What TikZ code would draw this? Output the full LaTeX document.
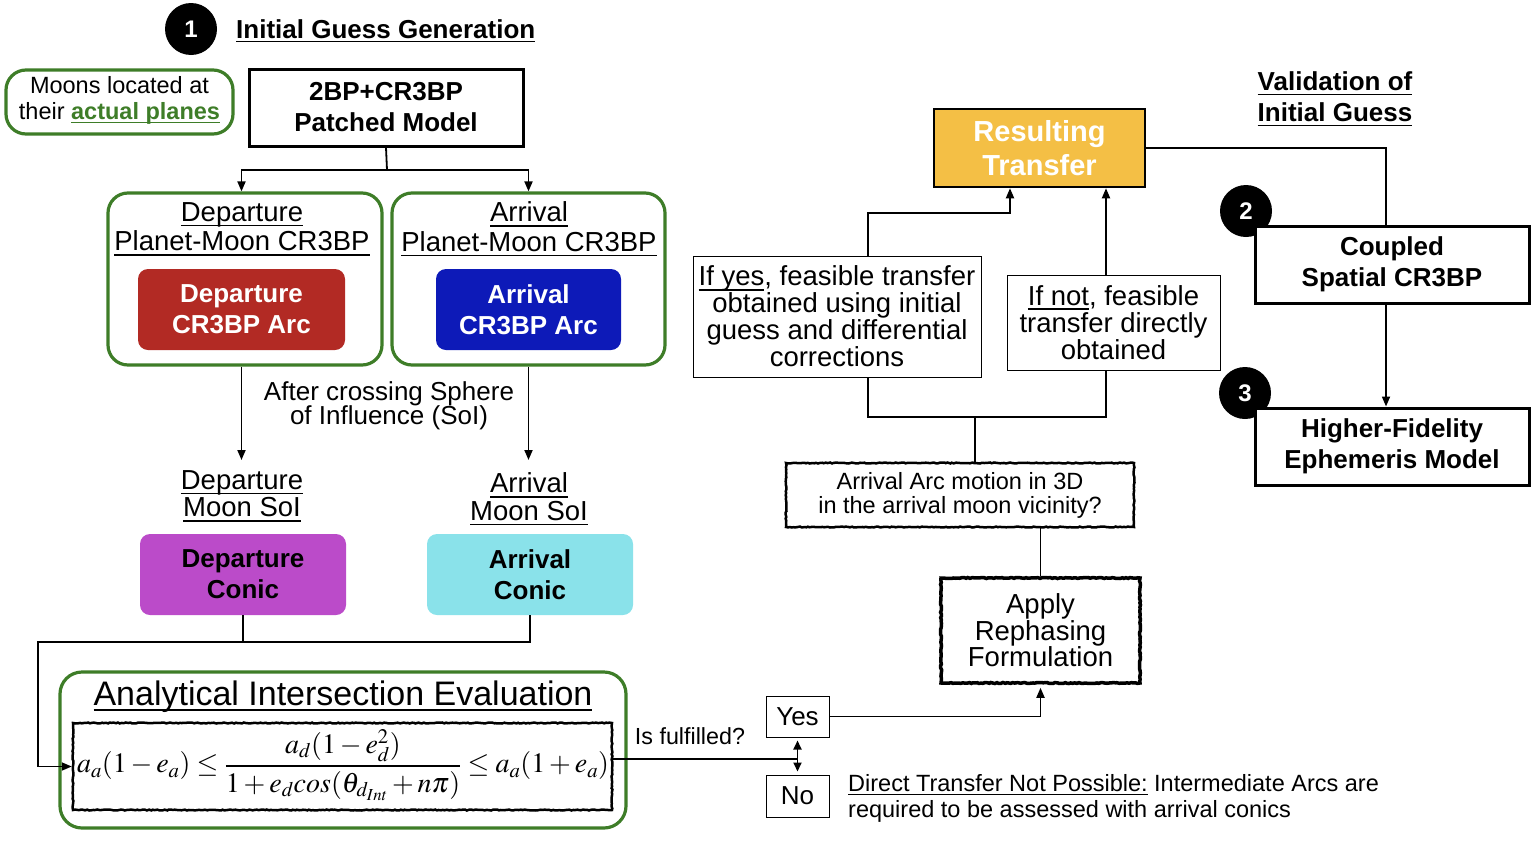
\documentclass[tikz,border=0pt]{standalone}
\usepackage{mathptmx}
\usepackage[no-math]{fontspec}
\setmainfont{Liberation Sans}
\usetikzlibrary{arrows.meta,decorations.pathmorphing}
\definecolor{grn}{RGB}{62,125,40}
\definecolor{redarc}{RGB}{178,42,36}
\definecolor{bluearc}{RGB}{13,26,184}
\definecolor{purp}{RGB}{187,75,201}
\definecolor{cyanc}{RGB}{138,226,234}
\definecolor{gold}{RGB}{244,191,69}
\newcommand\tightls{\lineskiplimit=-20pt\relax}
\newcommand\ul[1]{\setbox0\hbox{#1}\rlap{\rule[-0.17em]{\wd0}{0.055em}}\box0{}}
\begin{document}
\begin{tikzpicture}[x=1pt,y=-1pt,
  conn/.style={line width=1.8pt},
  arr/.style={conn,-{Triangle[length=10pt,width=8pt]}},
  dblarr/.style={conn,{Triangle[length=9pt,width=8pt]}-{Triangle[length=9pt,width=8pt]}},
  numc/.style={circle,fill=black,minimum size=52pt,inner sep=0,text=white,font=\bfseries\fontsize{24}{26}\selectfont},
  hbox/.style={draw,line width=3pt,fill=white,inner sep=0,align=center,font=\bfseries\fontsize{26}{31}\selectfont},
  thinbox/.style={draw,line width=1pt,fill=white,inner sep=0,align=center,font=\fontsize{27.5}{27}\selectfont\tightls},
  roughbox/.style={draw,line width=3pt,fill=white,inner sep=0,align=center,decorate,decoration={random steps,segment length=2pt,amplitude=0.5pt}},
  grnbox/.style={draw=grn,line width=3.2pt,rounded corners=20pt,inner sep=0},
  colbox/.style={rounded corners=10pt,inner sep=0,align=center,font=\bfseries\fontsize{26}{31}\selectfont},
  lbl/.style={inner sep=0,align=center,font=\fontsize{27.5}{29.5}\selectfont\tightls},
]
\useasboundingbox (0,0) rectangle (1538,846);

% ---- header
\node[numc] (c1) at (191,29) {1};
\node[anchor=base west,inner sep=0,font=\bfseries\fontsize{26}{30}\selectfont] (title) at (236,38) {\ul{Initial Guess Generation}};

\node[grnbox,minimum width=227pt,minimum height=64pt] (moonsbox) at (119.5,102) {};
\node[inner sep=0,align=center,font=\fontsize{23.5}{26}\selectfont\tightls] (moons) at (119.5,100) {Moons located at\\their \textcolor{grn}{\bfseries\ul{actual planes}}};

\node[hbox,minimum width=274pt,minimum height=77pt] (patched) at (386,107.5) {2BP+CR3BP\\Patched Model};

% ---- CR3BP groups
\node[grnbox,minimum width=274pt,minimum height=172pt] (depgrp) at (245,279) {};
\node[grnbox,minimum width=273pt,minimum height=172pt] (arrgrp) at (528.5,279) {};
\node[lbl] (deplbl) at (242,229) {\ul{Departure}\\\ul{Planet-Moon CR3BP}};
\node[lbl] (arrlbl) at (529,229) {\ul{Arrival}\\\ul{Planet-Moon CR3BP}};
\node[colbox,fill=redarc,text=white,minimum width=207pt,minimum height=81pt] (deparc) at (241.5,309.5) {Departure\\CR3BP Arc};
\node[colbox,fill=bluearc,text=white,minimum width=185pt,minimum height=81pt] (arrarc) at (528.5,309.5) {Arrival\\CR3BP Arc};

\coordinate (split) at (387,170);
\draw[conn] (patched.south) -- (split);
\draw[arr] (split) -| (deparc.north |- depgrp.north);
\draw[arr] (split) -| (arrarc.north |- arrgrp.north);

% ---- SoI
\node[inner sep=0,align=center,font=\fontsize{26}{23.5}\selectfont\tightls] (soitxt) at (389,406) {After crossing Sphere\\of Influence (SoI)};
\node[lbl,font=\fontsize{27.5}{27.5}\selectfont\tightls] (depsoi) at (242,496) {\ul{Departure}\\\ul{Moon SoI}};
\node[lbl,font=\fontsize{27.5}{27.5}\selectfont\tightls] (arrsoi) at (529,499) {\ul{Arrival}\\\ul{Moon SoI}};
\draw[arr] (deparc.south |- depgrp.south) -- (deparc.south |- 0,460) coordinate (depsoitop);
\draw[arr] (arrarc.south |- arrgrp.south) -- (arrarc.south |- 0,460) coordinate (arrsoitop);

\node[colbox,fill=purp,text=black,minimum width=206pt,minimum height=81pt] (depcon) at (243,574.5) {Departure\\Conic};
\node[colbox,fill=cyanc,text=black,minimum width=206pt,minimum height=81pt] (arrcon) at (530,574.5) {Arrival\\Conic};

% ---- analytical
\node[grnbox,rounded corners=22pt,minimum width=566pt,minimum height=156pt] (anagrp) at (343,750) {};
\node[anchor=base,inner sep=0,font=\fontsize{34}{36}\selectfont] (anatitle) at (343,705) {\ul{Analytical Intersection Evaluation}};
\node[roughbox,line width=2.5pt,minimum width=539pt,minimum height=87pt] (formula) at (342.5,766.5) {};
\node[inner sep=0,font=\fontsize{28}{30}\selectfont] (formtxt) at (343,765) {$a_a(1-e_a)\le\displaystyle\frac{a_d(1-e_d^2)}{1+e_d cos(\theta_{d_{Int}}+n\pi)}\le a_a(1+e_a)$};

\coordinate (merge) at (38,642);
\draw[conn] (depcon.south) -- (depcon.south |- merge);
\draw[arr] (arrcon.south) |- (merge) |- (formula.west);

% ---- decision
\coordinate (dec) at (797,759);
\draw[conn] (formula.east |- dec) -- (dec);
\node[anchor=base,inner sep=0,font=\fontsize{23.3}{26}\selectfont] (isful) at (690,744) {Is fulfilled?};
\node[thinbox,font=\fontsize{26}{28}\selectfont,minimum width=63pt,minimum height=41pt] (yes) at (797.5,716.5) {Yes};
\node[thinbox,font=\fontsize{26}{28}\selectfont,minimum width=63pt,minimum height=42pt] (no) at (797.5,796) {No};
\draw[dblarr] ([yshift=-3pt]yes.south) -- ([yshift=3pt]no.north);
\node[anchor=north west,inner sep=0,align=left,font=\fontsize{23.5}{26}\selectfont] (direct) at (848,774) {\ul{Direct Transfer Not Possible:} Intermediate Arcs are\\required to be assessed with arrival conics};

% ---- right part
\node[roughbox,line width=3.5pt,minimum width=199pt,minimum height=105pt,font=\fontsize{27.5}{26.5}\selectfont\tightls] (rephase) at (1040.5,630.5) {Apply\\Rephasing\\Formulation};
\draw[arr] (yes.east) -| ([yshift=-3pt]rephase.south);

\node[roughbox,line width=2.5pt,minimum width=348pt,minimum height=64pt,font=\fontsize{23.5}{24}\selectfont\tightls] (arrmot) at (960,495) {Arrival Arc motion in 3D\\in the arrival moon vicinity?};
\draw[conn] (rephase.north) -- (rephase.north |- arrmot.south);

\node[thinbox,minimum width=288pt,minimum height=121pt] (ifyes) at (837,316.5) {\ul{If yes}, feasible transfer\\obtained using initial\\guess and differential\\corrections};
\node[thinbox,minimum width=213pt,minimum height=95pt] (ifnot) at (1113.5,322.5) {\ul{If not}, feasible\\transfer directly\\obtained};

\coordinate (jn) at (975,417);
\coordinate (jl) at (868,417);
\coordinate (jr) at (1106,417);
\draw[conn] (jn |- arrmot.north) -- (jn);
\draw[conn] (jl |- ifyes.south) -- (jl) -- (jr) -- (jr |- ifnot.south);

\node[draw,line width=2.5pt,fill=gold,inner sep=0,align=center,text=white,font=\bfseries\fontsize{29}{34}\selectfont,minimum width=211pt,minimum height=78pt] (result) at (1039.5,148) {Resulting\\Transfer};
\coordinate (ry) at (1010,213);
\draw[arr] (jl |- ifyes.north) |- (ry) -- (ry |- result.south);
\draw[arr] (jr |- ifnot.north) -- (jr |- result.south);

\node[inner sep=0,align=center,font=\bfseries\fontsize{26}{31}\selectfont] (valid) at (1335,99) {\ul{Validation of}\\\ul{Initial Guess}};

\node[numc] (c2) at (1246,211) {2};
\node[numc] (c3) at (1245,393) {3};
\node[hbox,minimum width=274pt,minimum height=77pt] (coupled) at (1392,264.5) {Coupled\\Spatial CR3BP};
\node[hbox,minimum width=274pt,minimum height=77pt] (higher) at (1392,446.5) {Higher-Fidelity\\Ephemeris Model};
\coordinate (vx) at (1386,148);
\draw[conn] (result.east |- vx) -- (vx) -- (vx |- coupled.north);
\draw[arr] (vx |- coupled.south) -- (vx |- higher.north);
\end{tikzpicture}
\end{document}
